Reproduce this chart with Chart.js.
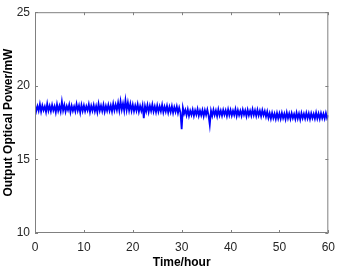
<!DOCTYPE html>
<html>
<head>
<meta charset="utf-8">
<script src="https://cdn.jsdelivr.net/npm/chart.js@4.4.0/dist/chart.umd.min.js"></script>
<style>
  html, body { margin: 0; padding: 0; background: #fff; }
  #wrap { width: 342px; height: 270px; }
</style>
</head>
<body>
<div id="wrap"><canvas id="powerChart" width="342" height="270"></canvas></div>
<script>
const sampleStep = 0.25;
const power = [
  18.68,18.28,18.62,18.30,18.75,18.25,18.66,18.34,18.60,18.22,18.78,18.31,18.64,18.27,18.70,18.33,18.61,18.20,18.74,18.30,
  18.63,18.26,18.92,18.32,18.69,18.24,18.62,18.35,18.72,18.21,18.64,18.30,18.60,18.27,18.76,18.32,18.65,18.18,18.70,18.29,
  18.66,18.27,18.61,18.33,18.73,18.22,18.64,18.30,18.69,18.26,18.62,18.20,18.77,18.31,18.65,18.28,18.71,18.24,18.63,18.30,
  18.70,18.30,18.66,18.26,18.78,18.33,18.72,18.35,18.84,18.32,18.95,18.38,18.80,18.30,19.02,18.36,18.86,18.33,18.78,18.30,
  18.72,18.28,18.66,18.31,18.74,18.24,18.63,18.30,18.68,17.80,18.62,18.26,18.70,18.22,18.64,18.29,18.73,18.25,18.60,18.21,
  18.66,18.24,18.60,18.27,18.70,18.20,18.58,18.25,18.64,18.18,18.57,18.22,18.62,18.16,18.55,18.23,18.60,18.15,18.52,18.20,
  17.05,18.50,18.10,18.36,18.00,18.40,17.95,18.30,18.02,18.38,17.96,18.33,18.04,18.42,17.97,18.31,18.00,18.36,17.94,18.34,
  18.02,18.38,17.99,17.35,18.30,17.96,18.37,18.01,18.32,17.94,18.40,18.00,18.31,17.97,18.36,18.03,18.33,17.95,18.39,18.00,
  18.35,17.98,18.31,18.02,18.41,17.95,18.34,18.00,18.30,17.96,18.38,18.03,18.32,17.93,18.36,18.00,18.30,17.97,18.40,18.01,
  18.33,17.96,18.37,17.99,18.30,17.94,18.35,18.00,18.28,17.90,18.25,17.82,18.14,17.76,18.16,17.80,18.10,17.74,18.15,17.78,
  18.12,17.76,18.16,17.80,18.10,17.73,18.18,17.79,18.11,17.75,18.14,17.81,18.08,17.74,18.17,17.78,18.11,17.72,18.15,17.80,
  18.10,17.77,18.16,17.79,18.12,17.74,18.13,17.81,18.09,17.76,18.17,17.78,18.11,17.75,18.14,17.80,18.10,17.77,18.15,17.79,
  18.00
];
const xTicks = [0, 10, 20, 30, 40, 50, 60];
const yTicks = [10, 15, 20, 25];

const points = power.map((v, i) => ({ x: i * sampleStep, y: v }));

// matlab style box with inward ticks
const boxPlugin = {
  id: "box",
  afterDraw(chart) {
    const { ctx, chartArea: a, scales } = chart;
    ctx.save();
    ctx.strokeStyle = "#808080";
    ctx.lineWidth = 1;
    ctx.beginPath();
    ctx.rect(a.left + 0.5, a.top + 0.5, a.right - a.left - 1, a.bottom - a.top - 1);
    const len = 3;
    xTicks.forEach((t) => {
      const px = Math.round(scales.x.getPixelForValue(t)) + 0.5;
      ctx.moveTo(px, a.bottom); ctx.lineTo(px, a.bottom - len);
      ctx.moveTo(px, a.top); ctx.lineTo(px, a.top + len);
    });
    yTicks.forEach((t) => {
      const py = Math.round(scales.y.getPixelForValue(t)) + 0.5;
      ctx.moveTo(a.left, py); ctx.lineTo(a.left + len, py);
      ctx.moveTo(a.right, py); ctx.lineTo(a.right - len, py);
    });
    ctx.stroke();
    ctx.restore();
  },
};

new Chart(document.getElementById("powerChart"), {
  type: "line",
  data: {
    datasets: [
      {
        data: points,
        borderColor: "#0000ff",
        borderWidth: 1.8,
        pointRadius: 0,
        tension: 0,
      },
    ],
  },
  options: {
    responsive: false,
    animation: false,
    layout: { padding: { left: 0, top: 7, right: 11, bottom: 0 } },
    plugins: { legend: { display: false }, tooltip: { enabled: false } },
    scales: {
      x: {
        type: "linear",
        min: 0,
        max: 60,
        afterFit: (s) => { s.height = 37; },
        afterBuildTicks: (s) => { s.ticks = xTicks.map((v) => ({ value: v })); },
        grid: { display: false, drawTicks: false },
        border: { display: false },
        ticks: { padding: 7, color: "#262626", font: { family: "Liberation Sans", size: 12 }, maxRotation: 0 },
        title: {
          display: true,
          text: "Time/hour",
          color: "#000",
          font: { family: "Liberation Sans", size: 12, weight: "bold" },
          padding: { top: 0, bottom: 0 },
        },
      },
      y: {
        min: 10,
        max: 25,
        afterFit: (s) => { s.width = 35; },
        afterBuildTicks: (s) => { s.ticks = yTicks.map((v) => ({ value: v })); },
        grid: { display: false, drawTicks: false },
        border: { display: false },
        ticks: { padding: 5, color: "#262626", font: { family: "Liberation Sans", size: 12 } },
        title: {
          display: true,
          text: "Output Optical Power/mW",
          color: "#000",
          font: { family: "Liberation Sans", size: 12, weight: "bold" },
          padding: { top: 1, bottom: 0 },
        },
      },
    },
  },
  plugins: [boxPlugin],
});
</script>
</body>
</html>
